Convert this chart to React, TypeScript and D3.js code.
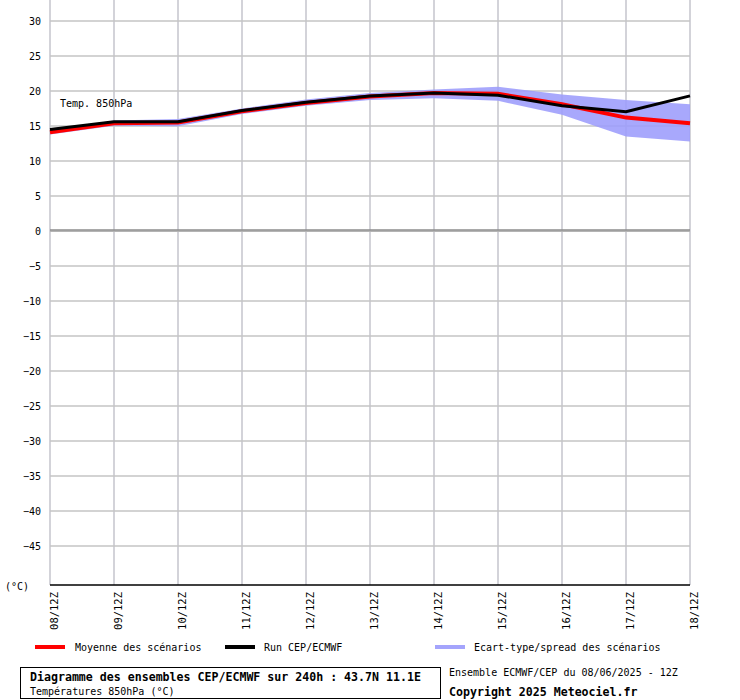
import React from "react";
import * as d3 from "d3";

const dates = ["08/12Z", "09/12Z", "10/12Z", "11/12Z", "12/12Z", "13/12Z", "14/12Z", "15/12Z", "16/12Z", "17/12Z", "18/12Z"];
const meanValues = [14.1, 15.4, 15.5, 17.1, 18.3, 19.2, 19.7, 19.6, 18.1, 16.2, 15.4];
const runValues = [14.5, 15.6, 15.6, 17.2, 18.4, 19.3, 19.7, 19.4, 17.9, 17.05, 19.3];
const spreadHigh = [14.4, 15.8, 16.0, 17.5, 18.8, 19.7, 20.2, 20.6, 19.5, 18.7, 18.1];
const spreadLow = [13.8, 15.05, 14.95, 16.7, 17.9, 18.7, 18.95, 18.6, 16.6, 13.5, 12.8];
const yTicks = [30, 25, 20, 15, 10, 5, 0, -5, -10, -15, -20, -25, -30, -35, -40, -45];

const FONT = "'DejaVu Sans Mono', monospace";

export default function App() {
  const W = 740, H = 700;
  const left = 50, right = 690, bottom = 585;
  const x = d3.scaleLinear().domain([0, dates.length - 1]).range([left, right]);
  const y = d3.scaleLinear().domain([0, 30]).range([231, 21]);
  const idx = dates.map((_, i) => i);

  const meanPath = d3.line<number>().x((_, i) => x(i)).y((v) => y(v))(meanValues) || "";
  const runPath = d3.line<number>().x((_, i) => x(i)).y((v) => y(v))(runValues) || "";
  const areaPath =
    d3
      .area<number>()
      .x((i) => x(i))
      .y0((i) => y(spreadLow[i]))
      .y1((i) => y(spreadHigh[i]))(idx) || "";

  const fmt = (t: number) => (t < 0 ? "\u2212" + Math.abs(t) : String(t));

  return (
    <svg width={W} height={H} style={{ position: "absolute", left: 0, top: 0, background: "#fff" }} fontFamily={FONT}>
      <rect x={0} y={0} width={W} height={H} fill="#fff" />
      {/* vertical grid */}
      {idx.map((i) => (
        <line key={"v" + i} x1={x(i)} x2={x(i)} y1={0} y2={bottom} stroke="#c4c4cc" strokeWidth={1.5} />
      ))}
      {/* horizontal grid */}
      {yTicks.map((t) => (
        <line key={"h" + t} x1={left} x2={right} y1={y(t)} y2={y(t)} stroke="#c4c4c4" strokeWidth={1.5} />
      ))}
      {/* zero line */}
      <line x1={left} x2={right} y1={y(0) - 1} y2={y(0) - 1} stroke="#8c8c8c" strokeWidth={1.5} />
      <line x1={left} x2={right} y1={y(0) + 0.5} y2={y(0) + 0.5} stroke="#b4b4b4" strokeWidth={1} />
      {/* bottom axis */}
      <line x1={left} x2={right} y1={bottom} y2={bottom} stroke="#000" strokeWidth={1.5} />

      {/* spread */}
      <path d={areaPath} fill="#9c9cfc" fillOpacity={0.88} />
      {/* lines */}
      <path d={meanPath} fill="none" stroke="#ff0000" strokeWidth={4} />
      <path d={runPath} fill="none" stroke="#000" strokeWidth={3} />

      {/* y labels */}
      {yTicks.map((t) => (
        <text key={"yl" + t} x={41} y={y(t) + 4} fontSize={10} textAnchor="end" fill="#000">
          {fmt(t)}
        </text>
      ))}
      <text x={5} y={590} fontSize={10} fill="#000">(°C)</text>

      {/* x labels */}
      {dates.map((d, i) => (
        <text
          key={"xl" + i}
          transform={`translate(${x(i) + 7.5},592) rotate(-90)`}
          fontSize={10.5}
          textAnchor="end"
          fill="#000"
        >
          {d}
        </text>
      ))}

      <text x={60} y={107} fontSize={10} fill="#000">Temp. 850hPa</text>

      {/* legend */}
      <line x1={35} x2={65} y1={647} y2={647} stroke="#ff0000" strokeWidth={4} />
      <text x={75} y={651} fontSize={10} fill="#000">Moyenne des scénarios</text>
      <line x1={225} x2={255} y1={647} y2={647} stroke="#000" strokeWidth={4} />
      <text x={264} y={651} fontSize={10} fill="#000">Run CEP/ECMWF</text>
      <line x1={435} x2={465} y1={647} y2={647} stroke="#a4a4fc" strokeWidth={4} />
      <text x={474} y={651} fontSize={10} fill="#000">Ecart-type/spread des scénarios</text>

      {/* bottom box */}
      <rect x={20.5} y={667.5} width={420} height={31} fill="none" stroke="#000" strokeWidth={1} />
      <text x={30} y={681} fontSize={11.6} fontWeight="bold" fill="#000">
        Diagramme des ensembles CEP/ECMWF sur 240h : 43.7N 11.1E
      </text>
      <text x={30} y={695} fontSize={10} fill="#000">Températures 850hPa (°C)</text>
      <text x={449} y={676} fontSize={10} fill="#000">Ensemble ECMWF/CEP du 08/06/2025 - 12Z</text>
      <text x={449} y={696} fontSize={11.6} fontWeight="bold" fill="#000">Copyright 2025 Meteociel.fr</text>
    </svg>
  );
}
